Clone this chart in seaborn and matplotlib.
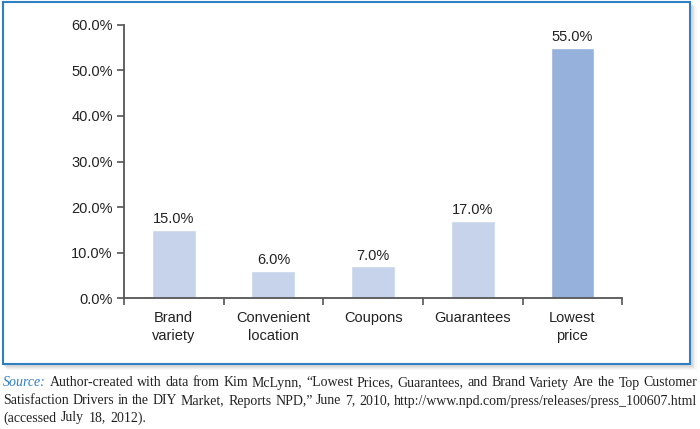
import seaborn as sns
import pandas as pd, numpy as np
import matplotlib.pyplot as plt
from matplotlib.patches import Rectangle
from matplotlib.ticker import PercentFormatter

categories = ["Brand\nvariety", "Convenient\nlocation", "Coupons", "Guarantees", "Lowest\nprice"]
values = [15.0, 6.0, 7.0, 17.0, 55.0]
bar_colors = ["#c6d3eb", "#c6d3eb", "#c6d3eb", "#c6d3eb", "#95b1dc"]

source_lines = [
    "Author-created with data from Kim McLynn, \u201cLowest Prices, Guarantees, and Brand Variety Are the Top Customer",
    "Satisfaction Drivers in the DIY Market, Reports NPD,\u201d June 7, 2010, http://www.npd.com/press/releases/press_100607.html",
    "(accessed July 18, 2012).",
]

df = pd.DataFrame({"driver": categories, "share": values})

sns.set_style("white")
plt.rcParams["font.family"] = ["Liberation Sans", "DejaVu Sans"]

fig = plt.figure(figsize=(7, 4.29), dpi=100)
ax = fig.add_axes([0.177, 0.305, 0.712, 0.637])

sns.barplot(data=df, x="driver", y="share", hue="driver", palette=bar_colors,
            width=0.44, legend=False, ax=ax, saturation=1)

for p, v in zip(ax.patches, values):
    ax.text(p.get_x() + p.get_width() / 2, v + 0.8, f"{v:.1f}%",
            ha="center", va="bottom", fontsize=10.5, color="#222222")

ax.set_xlim(-0.5, 4.5)
ax.set_ylim(0, 60)
ax.set_yticks(np.arange(0, 61, 10))
ax.yaxis.set_major_formatter(PercentFormatter(decimals=1))
ax.set_xticks(np.arange(-0.5, 4.6, 1))
ax.set_xticklabels([])
ax.set_xticks(range(len(categories)), minor=True)
ax.set_xticklabels(categories, minor=True, linespacing=1.35)
ax.tick_params(axis="x", which="minor", bottom=False, pad=7, labelsize=10.5, labelcolor="#222222")
ax.tick_params(axis="x", which="major", bottom=True, length=5, width=1.2, color="#555555", direction="out")
ax.tick_params(axis="y", left=True, length=5, width=1.2, color="#555555", direction="out",
               labelsize=10.5, labelcolor="#222222", pad=3)
ax.set_xlabel("")
ax.set_ylabel("")
for s in ["top", "right"]:
    ax.spines[s].set_visible(False)
for s in ["left", "bottom"]:
    ax.spines[s].set_color("#555555")
    ax.spines[s].set_linewidth(1.3)

# frame with soft shadow
for i, a in enumerate([0.06, 0.08, 0.1, 0.12]):
    off = (4 - i) * 0.0015
    fig.patches.append(Rectangle((0.004 + off, 0.148 - off * 1.6), 0.985, 0.845,
                                 transform=fig.transFigure, facecolor="#888888",
                                 edgecolor="none", alpha=a, zorder=0))
fig.patches.append(Rectangle((0.004, 0.152), 0.982, 0.843, transform=fig.transFigure,
                             facecolor="white", edgecolor="#2f7fc1", linewidth=1.5, zorder=1))
ax.set_zorder(2)

# source note, justified by spreading words over the width
serif = ["Liberation Serif", "DejaVu Serif"]
fs = 10.0
renderer = fig.canvas.get_renderer()
x_left, x_right = 3, 697
ys = [383, 401, 418]
for li, (line, yy) in enumerate(zip(source_lines, ys)):
    words = line.split(" ")
    pieces = []
    if li == 0:
        pieces.append(("Source:", dict(style="italic", color="#2f7fc1")))
    pieces += [(w, dict(color="#222222")) for w in words]
    texts = [fig.text(0, 1 - yy / 429, w, family=serif, fontsize=fs, va="center",
                      transform=None, **kw) for w, kw in pieces]
    widths = [t.get_window_extent(renderer).width for t in texts]
    if li < 2:
        gap = (x_right - x_left - sum(widths)) / (len(texts) - 1)
    else:
        gap = 4.5
    x = x_left
    for t, w in zip(texts, widths):
        t.set_position((x, (1 - yy / 429) * fig.bbox.height))
        x += w + gap

plt.savefig("out.png", dpi=100)
